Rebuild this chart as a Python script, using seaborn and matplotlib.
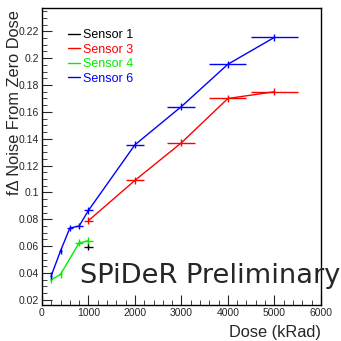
import numpy as np
import pandas as pd
import matplotlib
matplotlib.use("Agg")
import matplotlib.pyplot as plt
import seaborn as sns
from matplotlib.ticker import MultipleLocator, FuncFormatter

# Data
s1_dose = [1000]
s1_val = [0.0595]
s1_xerr = [100]
s1_yerr = [0.0025]

s3_dose = [1000, 2000, 3000, 4000, 5000]
s3_val = [0.079, 0.109, 0.137, 0.170, 0.175]
s3_xerr = [100, 200, 300, 400, 500]
s3_yerr = [0.0025, 0.0025, 0.0025, 0.0025, 0.0025]

s4_dose = [200, 400, 800, 1000]
s4_val = [0.035, 0.039, 0.0625, 0.064]
s4_xerr = [20, 40, 80, 100]
s4_yerr = [0.0025, 0.0025, 0.0025, 0.0025]

s6_dose = [200, 400, 600, 800, 1000, 2000, 3000, 4000, 5000]
s6_val = [0.038, 0.0565, 0.0735, 0.075, 0.0866, 0.1355, 0.164, 0.1955, 0.2155]
s6_xerr = [20, 40, 60, 80, 100, 200, 300, 400, 500]
s6_yerr = [0.0025, 0.0025, 0.0025, 0.0025, 0.0025, 0.0025, 0.0025, 0.0025, 0.0025]

names = ["Sensor 1", "Sensor 3", "Sensor 4", "Sensor 6"]
colors = ["black", "#ff0000", "#00ee00", "#0000ff"]

sns.set_style("white")
plt.rcParams['font.family'] = ['Liberation Sans', 'DejaVu Sans']

fig = plt.figure(figsize=(3.41, 3.41), dpi=100)
ax = fig.add_axes([0.123, 0.106, 0.818, 0.871])

series = [
    (s1_dose, s1_val, s1_xerr, s1_yerr),
    (s3_dose, s3_val, s3_xerr, s3_yerr),
    (s4_dose, s4_val, s4_xerr, s4_yerr),
    (s6_dose, s6_val, s6_xerr, s6_yerr),
]
for name, col, (d, v, xe, ye) in zip(names, colors, series):
    df = pd.DataFrame({"dose": d, "val": v})
    sns.lineplot(data=df, x="dose", y="val", ax=ax, color=col, lw=1.0,
                 label=name, sort=False, estimator=None)
    ax.errorbar(d, v, xerr=xe, yerr=ye, fmt="none", ecolor=col,
                elinewidth=1.0, capsize=0)

ax.set_xlim(0, 6000)
ax.set_ylim(0.0163, 0.2375)
ax.xaxis.set_major_locator(MultipleLocator(1000))
ax.xaxis.set_minor_locator(MultipleLocator(200))
ax.yaxis.set_major_locator(MultipleLocator(0.02))
ax.yaxis.set_minor_locator(MultipleLocator(0.005))
ax.yaxis.set_major_formatter(FuncFormatter(lambda v, p: "%g" % round(v, 3)))
ax.tick_params(axis="both", which="major", direction="in", length=7,
               labelsize=7.5, top=False, right=False, pad=2)
ax.tick_params(axis="both", which="minor", direction="in", length=3.5,
               top=False, right=False)
ax.tick_params(axis="y", which="both", left=True)
ax.tick_params(axis="x", which="both", bottom=True)
for sp in ax.spines.values():
    sp.set_color("black")
    sp.set_linewidth(1.0)
    sp.set_visible(True)

ax.set_xlabel("Dose (kRad)", fontsize=11.8, loc="right", labelpad=5)
ax.set_ylabel("f\u0394 Noise From Zero Dose", fontsize=11.8, loc="top")
ax.yaxis.set_label_coords(-0.073, 0.993)

leg = ax.legend(loc="upper left", bbox_to_anchor=(0.075, 0.945), frameon=False,
                fontsize=9, handlelength=1.0, handletextpad=0.25,
                labelspacing=0.2, borderaxespad=0)
for txt, col in zip(leg.get_texts(), colors):
    txt.set_color(col)

fig.text(0.235, 0.17, "SPiDeR Preliminary", fontsize=19.6,
         family="DejaVu Sans", ha="left", va="baseline")

fig.savefig("out.png", dpi=100)
